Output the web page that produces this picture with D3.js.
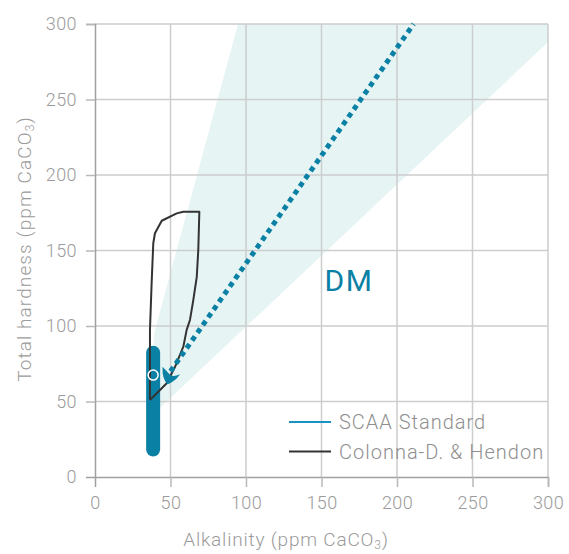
<!DOCTYPE html>
<html>
<head>
<meta charset="utf-8">
<script src="https://cdn.jsdelivr.net/npm/d3@7"></script>
<style>
  body { margin: 0; background: #fff; }
  text { font-family: Roboto, "DejaVu Sans", sans-serif; }
</style>
</head>
<body>
<div id="chart"></div>
<script>
// Axis ticks for both axes
const xTicks = [0, 50, 100, 150, 200, 250, 300];
const yTicks = [0, 50, 100, 150, 200, 250, 300];

// Light "DM" zone (alkalinity, hardness corners)
const zoneX = [39, 300, 300, 94.7, 39];
const zoneY = [42, 288, 300, 300, 94.5];

// SCAA standard: dotted line start / end
const scaaX = [50, 211];
const scaaY = [70, 300];

// Colonna-Dashwood & Hendon loop
const cdhX = [36.4, 36.4, 37.5, 38.6, 39.7, 44.2, 54.1, 58.5, 69.1, 68.4, 67.4, 65.1, 62.9, 60.7, 58.5, 53.0, 47.5, 41.9, 36.4];
const cdhY = [51.0, 97.4, 128.3, 154.8, 161.4, 169.7, 174.6, 175.7, 175.7, 150.3, 132.6, 117.2, 104.0, 97.4, 86.3, 73.0, 62.1, 56.5, 51.0];

// SCAA range bar and target point
const barAlk = 38.5;
const barHard = [13.5, 87];
const pointAlk = 38.5;
const pointHard = 67.5;

const legendNames = ["SCAA Standard", "Colonna-D. & Hendon"];

const width = 569, height = 554;
const margin = { top: 24, right: 21, bottom: 77, left: 95 };

const svg = d3.select("#chart").append("svg")
  .attr("width", width)
  .attr("height", height);

const x = d3.scaleLinear().domain([0, 300]).range([margin.left, width - margin.right]);
const y = d3.scaleLinear().domain([0, 300]).range([height - margin.bottom, margin.top]);

const blue = "#0a80a5";
const grey = "#9b9b9b";

// shaded zone
svg.append("path")
  .attr("d", d3.line()(zoneX.map((v, i) => [x(v), y(zoneY[i])])) + "Z")
  .attr("fill", "#e6f4f4");

// grid lines
svg.append("g").selectAll("line")
  .data(xTicks.slice(1))
  .join("line")
  .attr("x1", d => x(d)).attr("x2", d => x(d))
  .attr("y1", y(0)).attr("y2", y(300))
  .attr("stroke", "#cdcdcd").attr("stroke-width", 1.5);

svg.append("g").selectAll("line")
  .data(yTicks.slice(1))
  .join("line")
  .attr("y1", d => y(d)).attr("y2", d => y(d))
  .attr("x1", x(0)).attr("x2", x(300))
  .attr("stroke", "#cdcdcd").attr("stroke-width", 1.5);

// axes
const xAxis = svg.append("g")
  .attr("transform", `translate(0,${y(0)})`)
  .call(d3.axisBottom(x).tickValues(xTicks).tickSize(10).tickPadding(9));
const yAxis = svg.append("g")
  .attr("transform", `translate(${x(0)},0)`)
  .call(d3.axisLeft(y).tickValues(yTicks).tickSize(9).tickPadding(9));

[xAxis, yAxis].forEach(g => {
  g.select(".domain").attr("stroke", "#a0a0a0").attr("stroke-width", 1.5);
  g.selectAll(".tick line").attr("stroke", "#b8b8b8").attr("stroke-width", 1.5);
  g.selectAll(".tick text")
    .attr("fill", grey)
    .attr("font-size", 18)
    .attr("font-family", "Roboto, sans-serif")
    .attr("font-weight", 300)
    .attr("letter-spacing", 0.4);
  g.selectAll(".tick").filter(d => d === 0).select("line").remove();
});

// axis titles
const xTitle = svg.append("text")
  .attr("x", 286).attr("y", 546)
  .attr("text-anchor", "middle")
  .attr("fill", grey).attr("font-size", 19).attr("font-weight", 300)
  .attr("letter-spacing", 0.8)
  .text("Alkalinity (ppm CaCO");
xTitle.append("tspan").attr("font-size", 12).attr("dy", 3).text("3");
xTitle.append("tspan").attr("dy", -3).text(")");

const yTitle = svg.append("text")
  .attr("transform", "translate(31,249) rotate(-90)")
  .attr("text-anchor", "middle")
  .attr("fill", grey).attr("font-size", 19).attr("font-weight", 300)
  .attr("letter-spacing", 1.1)
  .text("Total hardness (ppm CaCO");
yTitle.append("tspan").attr("font-size", 12).attr("dy", 3).text("3");
yTitle.append("tspan").attr("dy", -3).text(")");

// range bar
svg.append("rect")
  .attr("x", x(barAlk) - 7)
  .attr("width", 14)
  .attr("y", y(barHard[1]))
  .attr("height", y(barHard[0]) - y(barHard[1]))
  .attr("rx", 7)
  .attr("fill", blue);

// Colonna-Dashwood & Hendon loop
svg.append("path")
  .attr("d", d3.line().curve(d3.curveLinear)(cdhX.map((v, i) => [x(v), y(cdhY[i])])))
  .attr("fill", "none")
  .attr("stroke", "#333")
  .attr("stroke-width", 2)
  .attr("stroke-linejoin", "round");

// SCAA dotted line
svg.append("line")
  .attr("x1", x(scaaX[0])).attr("y1", y(scaaY[0]))
  .attr("x2", x(scaaX[1])).attr("y2", y(scaaY[1]))
  .attr("stroke", blue)
  .attr("stroke-width", 5)
  .attr("stroke-dasharray", "5 4.4");

// hook-shaped arrow head at the start of the dotted line
const ax = x(scaaX[0]), ay = y(scaaY[0]);
svg.append("path")
  .attr("transform", `translate(${ax},${ay})`)
  .attr("d", "M-8,-4.5 Q-8.5,8 -3,13 Q5,10 9.5,3 Q2,6.5 -1,3 Q-4,-0.5 -8,-4.5Z")
  .attr("fill", blue);

// target point
svg.append("circle")
  .attr("cx", x(pointAlk)).attr("cy", y(pointHard))
  .attr("r", 5)
  .attr("fill", "none")
  .attr("stroke", "#fff")
  .attr("stroke-width", 1.5);

// DM label
svg.append("text")
  .attr("x", x(152)).attr("y", y(123))
  .attr("fill", blue)
  .attr("font-size", 30)
  .attr("font-weight", 400)
  .attr("letter-spacing", 1.5)
  .text("DM");

// legend
const legend = svg.append("g").attr("transform", "translate(289,422)");
legendNames.forEach((name, i) => {
  const row = legend.append("g").attr("transform", `translate(0,${i * 29.5})`);
  row.append("line")
    .attr("x1", 0).attr("x2", 42)
    .attr("stroke", i === 0 ? "#1b93c0" : "#333")
    .attr("stroke-width", 1.8);
  row.append("text")
    .attr("x", 50).attr("y", 7)
    .attr("fill", "#8f8f8f")
    .attr("font-size", 20)
    .attr("font-weight", 300)
    .attr("letter-spacing", 1)
    .text(name);
});
</script>
</body>
</html>
